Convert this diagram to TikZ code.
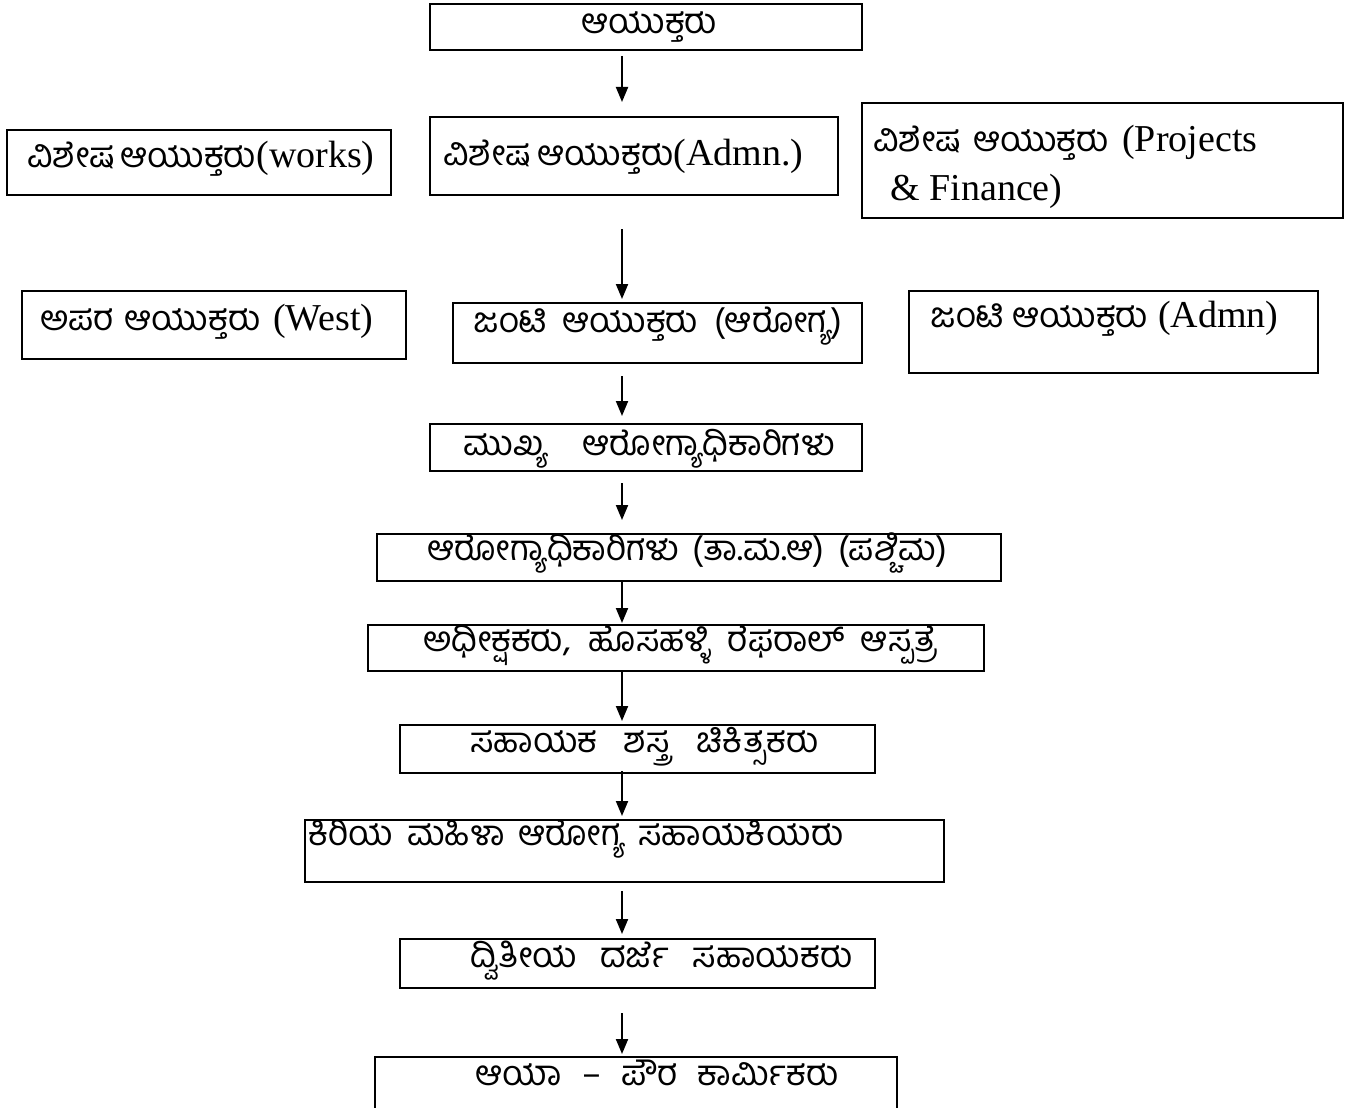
\documentclass[tikz,border=0pt]{standalone}
\usepackage{fontspec}
\setmainfont{Liberation Serif}
\newfontfamily\kn[Script=Kannada]{Hind Mysuru}
\usetikzlibrary{arrows.meta,fit}
\newcommand{\spread}[2]{\makebox[#1][s]{#2}}
\newcommand{\knm}{\kn\fontsize{17.5}{20}\selectfont}
\begin{document}
\begin{tikzpicture}[x=0.5pt,y=-0.5pt,
  box/.style={draw, line width=1pt, inner sep=0pt},
  txt/.style={inner sep=0pt, anchor=base west, font=\fontsize{19}{22}\selectfont},
  ktxt/.style={inner sep=0pt, anchor=base west, font=\knm},
  arr/.style={line width=1pt, -{Triangle[length=7.5pt,width=6pt]}}]
\useasboundingbox (0,0) rectangle (1363,1107);
\coordinate (spine) at (622,0);
% boxes
\node[box, fit={(430,4) (862,50)}] (n1) {};
\node[box, fit={(7,130) (391,195)}] (n2) {};
\node[box, fit={(430,117) (838,195)}] (n3) {};
\node[box, fit={(862,103) (1343,218)}] (n4) {};
\node[box, fit={(22,291) (406,359)}] (n5) {};
\node[box, fit={(453,303) (862,363)}] (n6) {};
\node[box, fit={(909,291) (1318,373)}] (n7) {};
\node[box, fit={(430,424) (862,471)}] (n8) {};
\node[box, fit={(377,534) (1001,581)}] (n9) {};
\node[box, fit={(368,625) (984,671)}] (n10) {};
\node[box, fit={(400,725) (875,773)}] (n11) {};
\node[box, fit={(305,820) (944,882)}] (n12) {};
\node[box, fit={(400,939) (875,988)}] (n13) {};
\node[box, fit={(375,1057) (897,1130)}] (n14) {};
% texts
\node[ktxt] (t1) at (581,34) {ಆಯುಕ್ತರು};
\node[txt] (t2) at (27,168) {\spread{170.5pt}{{\knm ವಿಶೇಷ ಆಯುಕ್ತರು}(works)}};
\node[txt] (t3) at (443,166) {\spread{180pt}{{\knm ವಿಶೇಷ ಆಯುಕ್ತರು}(Admn.)}};
\node[txt, text depth=1pt] (t4a) at (873,152) {\spread{192pt}{{\knm ವಿಶೇಷ ಆಯುಕ್ತರು} (Projects}};
\node[txt] (t4b) at (890,200) {\& Finance)};
\node[txt] (t5) at (40,330) {\spread{166.5pt}{{\knm ಅಪರ ಆಯುಕ್ತರು} (West)}};
\node[ktxt] (t6) at (473,332) {\spread{184.5pt}{ಜಂಟಿ ಆಯುಕ್ತರು (ಆರೋಗ್ಯ)}};
\node[txt] (t7) at (930,327) {\spread{174pt}{{\knm ಜಂಟಿ ಆಯುಕ್ತರು} (Admn)}};
\node[ktxt] (t8) at (463,455) {\spread{181pt}{ಮುಖ್ಯ\quad ಆರೋಗ್ಯಾಧಿಕಾರಿಗಳು}};
\node[ktxt] (t9) at (427,560) {\spread{260pt}{ಆರೋಗ್ಯಾಧಿಕಾರಿಗಳು (ತಾ.ಮ.ಆ) (ಪಶ್ಚಿಮ)}};
\node[ktxt] (t10) at (423,651) {\spread{257pt}{ಅಧೀಕ್ಷಕರು, ಹೊಸಹಳ್ಳಿ ರೆಫರಾಲ್ ಆಸ್ಪತ್ರೆ}};
\node[ktxt] (t11) at (470,752) {\spread{174pt}{ಸಹಾಯಕ ಶಸ್ತ್ರ ಚಿಕಿತ್ಸಕರು}};
\node[ktxt] (t12) at (308,845) {\spread{267.5pt}{ಕಿರಿಯ ಮಹಿಳಾ ಆರೋಗ್ಯ ಸಹಾಯಕಿಯರು}};
\node[ktxt] (t13) at (470,967) {\spread{191pt}{ದ್ವಿತೀಯ ದರ್ಜೆ ಸಹಾಯಕರು}};
\node[ktxt, text depth=2pt] (t14) at (475,1085) {\spread{181.5pt}{ಆಯಾ – ಪೌರ ಕಾರ್ಮಿಕರು}};
% arrows
\draw[arr, shorten <=2.5pt, shorten >=7pt] (n1.south -| spine) -- (n3.north -| spine);
\draw[arr, shorten <=16.5pt, shorten >=1.5pt] (n3.south -| spine) -- (n6.north -| spine);
\draw[arr, shorten <=6pt, shorten >=3.5pt] (n6.south -| spine) -- (n8.north -| spine);
\draw[arr, shorten <=5.5pt, shorten >=6.5pt] (n8.south -| spine) -- (n9.north -| spine);
\draw[arr, shorten >=0.5pt] (n9.south -| spine) -- (n10.north -| spine);
\draw[arr, shorten >=1.5pt] (n10.south -| spine) -- (n11.north -| spine);
\draw[arr, shorten <=-1.5pt, shorten >=1.5pt] (n11.south -| spine) -- (n12.north -| spine);
\draw[arr, shorten <=4pt, shorten >=2pt] (n12.south -| spine) -- (n13.north -| spine);
\draw[arr, shorten <=12pt, shorten >=1pt] (n13.south -| spine) -- (n14.north -| spine);
\end{tikzpicture}
\end{document}
